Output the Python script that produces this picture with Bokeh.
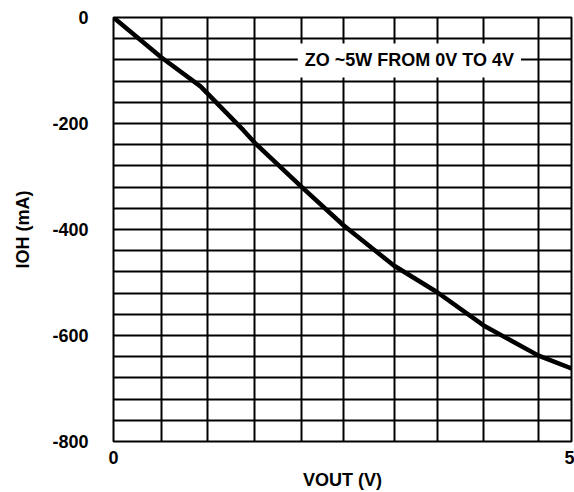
from bokeh.plotting import figure
from bokeh.models import Range1d, FixedTicker, Label
from bokeh.embed import file_html
from bokeh.resources import INLINE

# Data
vout = [0.0, 0.52, 0.95, 1.42, 1.54, 2.05, 2.51, 3.06, 3.53, 4.04, 4.64, 5.0]
ioh = [0, -75, -130, -213, -236, -319, -392, -468, -518, -581, -638, -662]

x_ticks = [0, 5]
y_ticks = [0, -200, -400, -600, -800]
grid_x = [0, 0.524, 1.026, 1.539, 2.052, 2.511, 3.068, 3.537, 4.039, 4.640, 5.0]
grid_y = list(range(0, -801, -40))

annotation_text = "ZO ~5W FROM 0V TO 4V"
annotation_x = 3.23
annotation_y = -81

FONT = "Liberation Sans"
FS = "18px"

p = figure(width=574, height=492, output_backend="svg", toolbar_location=None,
           x_range=Range1d(0, 5), y_range=Range1d(-800, 0),
           min_border_left=113, min_border_right=3, min_border_top=17,
           min_border_bottom=51)

p.outline_line_color = "black"
p.outline_line_width = 2
p.background_fill_color = "white"
p.border_fill_color = "white"

p.xgrid.ticker = FixedTicker(ticks=grid_x)
p.ygrid.ticker = FixedTicker(ticks=grid_y)
for g in (p.xgrid, p.ygrid):
    g.grid_line_color = "black"
    g.grid_line_width = 2
    g.grid_line_alpha = 1.0

p.xaxis.ticker = FixedTicker(ticks=x_ticks)
p.yaxis.ticker = FixedTicker(ticks=y_ticks)
p.xaxis.major_label_overrides = {v: str(v) for v in x_ticks}
p.yaxis.major_label_overrides = {v: str(v) for v in y_ticks}

for ax in (p.xaxis, p.yaxis):
    ax.axis_line_color = None
    ax.major_tick_line_color = None
    ax.minor_tick_line_color = None
    ax.major_tick_out = 0
    ax.major_tick_in = 0
    ax.major_label_text_font = FONT
    ax.major_label_text_font_size = FS
    ax.major_label_text_font_style = "bold"
    ax.major_label_text_color = "black"
    ax.axis_label_text_font = FONT
    ax.axis_label_text_font_size = FS
    ax.axis_label_text_font_style = "bold"
    ax.axis_label_text_color = "black"

p.xaxis.axis_label = "VOUT (V)"
p.yaxis.axis_label = "IOH (mA)"
p.xaxis.major_label_standoff = 9
p.xaxis.axis_label_standoff = 3
p.yaxis.major_label_standoff = 25
p.yaxis.axis_label_standoff = 16

p.line(vout, ioh, line_color="black", line_width=4.5, line_join="round", line_cap="round")

p.add_layout(Label(x=annotation_x, y=annotation_y, text=annotation_text,
                   text_align="center", text_baseline="middle",
                   text_font=FONT, text_font_size=FS, text_font_style="bold",
                   text_color="black", background_fill_color="white",
                   background_fill_alpha=1.0, padding=7))

open("out.html", "w").write(file_html(p, INLINE))
